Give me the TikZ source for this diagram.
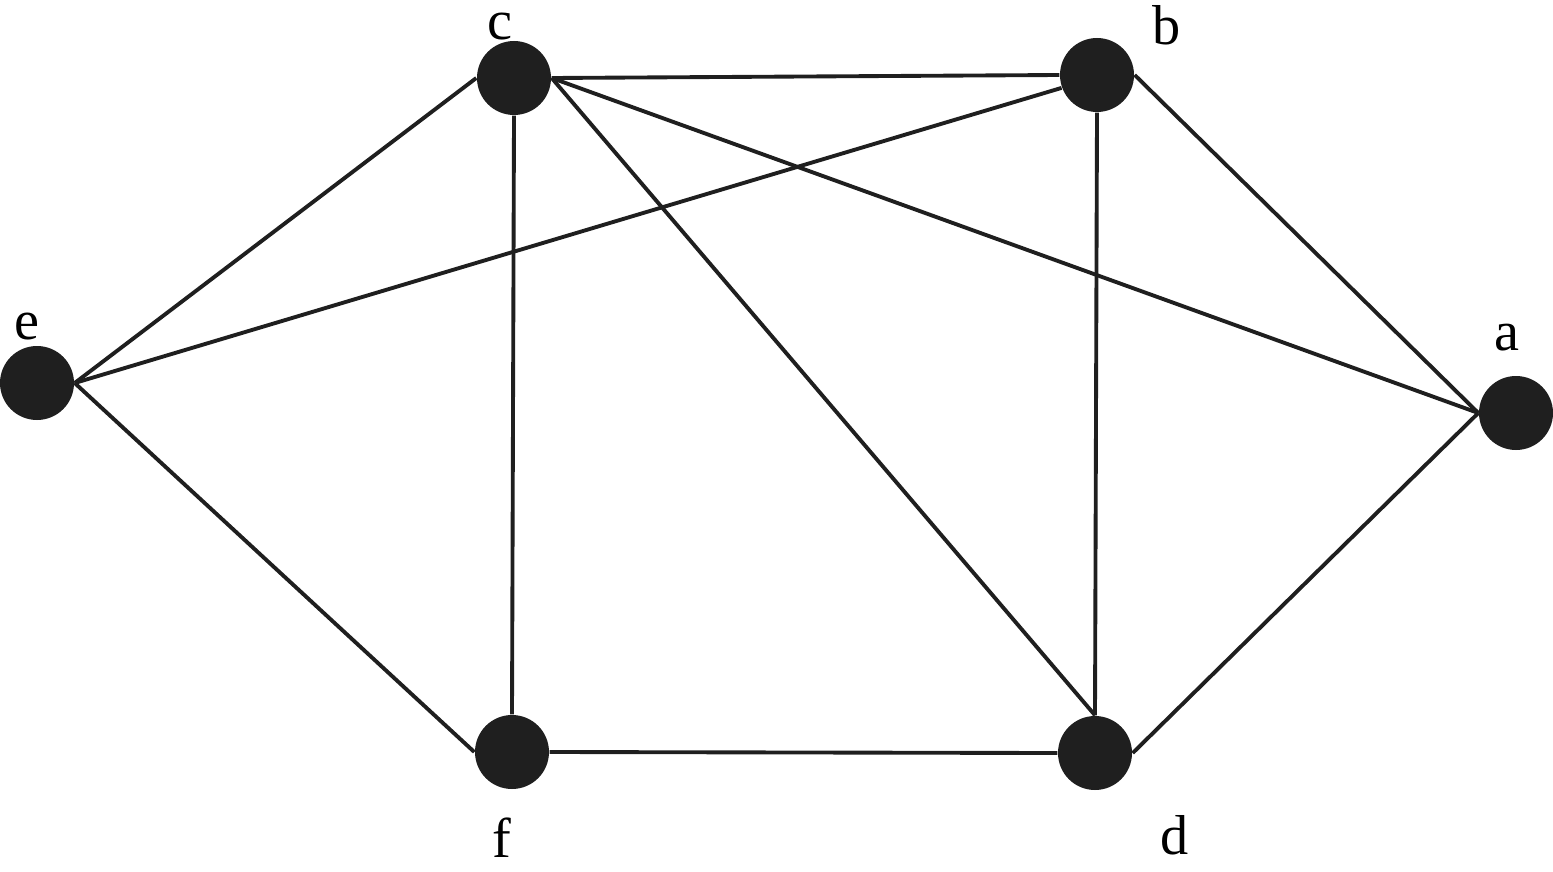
\documentclass[tikz,border=0pt]{standalone}
\usepackage{fontspec}
\setmainfont{Liberation Serif}
\usetikzlibrary{positioning}

\begin{document}
\begin{tikzpicture}[x=1cm,y=1cm,
	vertex/.style={circle,fill=black!88,inner sep=0pt,minimum size=7.4mm},
	lbl/.style={font=\fontsize{16}{18}\selectfont,inner sep=0pt},
	edge/.style={line width=1.1pt,draw=black!88}]
		\useasboundingbox (0,0) rectangle (15.53,8.71);

		%top nodes
		\node[vertex] (c) at (5.14,7.93) {};
		\node[vertex] (b) at (10.97,7.96) {};

		%middle nodes
		\node[vertex] (e) at (0.37,4.88) {};
		\node[vertex] (a) at (15.16,4.58) {};

		%bottom nodes
		\node[vertex] (f) at (5.12,1.19) {};
		\node[vertex] (d) at (10.95,1.18) {};

		%labels
		\node[lbl] (lc) at (5.00,8.44) {c};
		\node[lbl] (lb) at (11.67,8.46) {b};
		\node[lbl] (le) at (0.27,5.44) {e};
		\node[lbl] (la) at (15.07,5.33) {a};
		\node[lbl] (lf) at (5.02,0.33) {f};
		\node[lbl] (ld) at (11.75,0.36) {d};

		%edges
		\draw[edge] (c.east) -- (b.west);
		\draw[edge] (e.east) -- (c.west);
		\draw[edge] (c.south) -- (f.north);
		\draw[edge] (c.east) -- (d.north);
		\draw[edge] (c.east) -- (a.west);
		\draw[edge] (e.east) -- (b.200);
		\draw[edge] (b.south) -- (d.north);
		\draw[edge] (b.east) -- (a.west);
		\draw[edge] (e.east) -- (f.west);
		\draw[edge] (f.east) -- (d.west);
		\draw[edge] (d.east) -- (a.west);

\end{tikzpicture}
\end{document}
